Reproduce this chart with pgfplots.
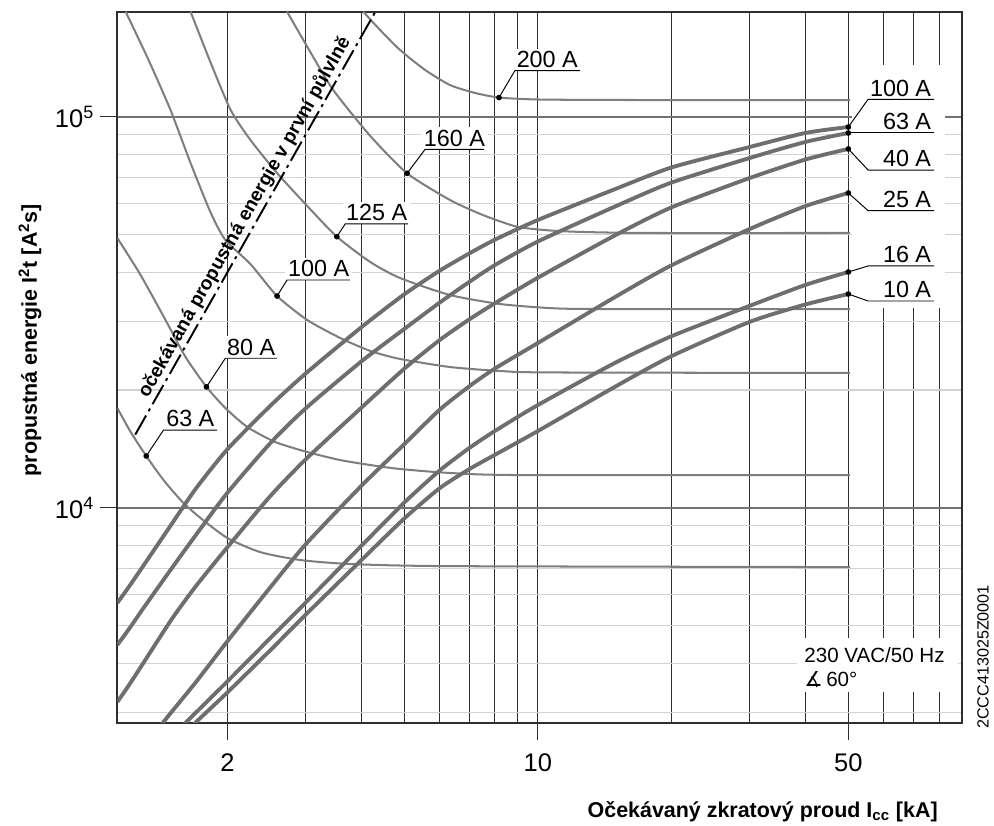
\documentclass[border=0pt]{standalone}
\usepackage{fontspec}
\setmainfont{Liberation Sans}
\newfontfamily\djv{DejaVu Sans}
\usepackage{pgfplots}
\pgfplotsset{compat=1.18}
\definecolor{thincurve}{HTML}{7E7E7E}
\definecolor{thickcurve}{HTML}{6E6E6E}
\definecolor{gridlight}{HTML}{D2D2D2}
\definecolor{gridmid}{HTML}{727272}
\definecolor{griddark}{HTML}{2E2E2E}
\tikzset{
    lab/.style={font=\fontsize{13.3}{15}\selectfont, fill=white, inner sep=1.5pt},
    fusec/.style={draw=thincurve, line width=1.15pt, smooth, tension=0.4},
    brkc/.style={draw=thickcurve, line width=2.2pt, smooth, tension=0.4},
    lead/.style={draw=black, line width=0.55pt},
}

\begin{document}
\begin{tikzpicture}
\useasboundingbox (-2.346cm,-2.046cm) rectangle (17.534cm,14.454cm);
\begin{axis}[
    at={(0,0)}, anchor=south west,
    scale only axis, width=16.888cm, height=14.22cm,
    xmode=log, ymode=log,
    xmin=1.13, xmax=90, ymin=2820, ymax=185600,
    xtick={2,10,50}, xticklabels={2,10,50},
    minor xtick={3,4,5,6,7,8,9,20,30,40,60,70,80},
    ytick={10000,100000}, yticklabels={10\textsuperscript{4},10\textsuperscript{5}},
    minor ytick={3000,4000,5000,6000,7000,8000,9000,20000,30000,40000,50000,60000,70000,80000,90000},
    xtick pos=bottom, ytick pos=left,
    grid=both,
    major x grid style={draw=griddark, line width=0.55pt},
    minor x grid style={draw=griddark, line width=0.55pt},
    major y grid style={draw=gridmid, line width=0.95pt},
    minor y grid style={draw=gridlight, line width=0.65pt},
    tick align=outside, major tick length=0.34cm, minor tick length=0pt,
    tick style={draw=griddark, line width=0.55pt},
    axis line style={draw=griddark, line width=1.3pt},
    ticklabel style={font=\fontsize{14.5}{17}\selectfont},
    xticklabel style={yshift=-0.16cm},
]

% white masks behind the label column and the note box
\fill[white] (rel axis cs:0.8700,0.9251) rectangle (rel axis cs:0.9803,0.5834);
\fill[white] (rel axis cs:0.8050,0.1191) rectangle (rel axis cs:0.9957,0.0432);
\node[anchor=west, inner sep=0pt, font=\fontsize{11.7}{13}\selectfont] at (rel axis cs:0.8133,0.0952) {230 VAC/50 Hz};
\node[anchor=west, inner sep=0pt, font=\fontsize{11.7}{13}\selectfont] at (rel axis cs:0.8133,0.0601) {{\djv ∡}\,60°};

% labels of the thin curves
\node[lab, anchor=south] at (axis cs:1.650,15800) {63 A};
\node[lab, anchor=south] at (axis cs:2.263,24110) {80 A};
\node[lab, anchor=south] at (axis cs:3.209,38230) {100 A};
\node[lab, anchor=south] at (axis cs:4.335,53170) {125 A};
\node[lab, anchor=south] at (axis cs:6.490,82500) {160 A};
\node[lab, anchor=south] at (axis cs:10.50,131100) {200 A};
% labels of the thick curves
\node[lab, anchor=south east] at (axis cs:78,110800) {100 A};
\node[lab, anchor=south east] at (axis cs:78,90850) {63 A};
\node[lab, anchor=south east] at (axis cs:78,73050) {40 A};
\node[lab, anchor=south east] at (axis cs:78,57490) {25 A};
\node[lab, anchor=south east] at (axis cs:78,41520) {16 A};
\node[lab, anchor=south east] at (axis cs:78,33780) {10 A};

% thin curves
\addplot[fusec] coordinates {(4.044,185600) (4.414,166600) (4.895,148100) (5.572,131700) (6.340,120500) (7.218,115000) (8.174,111900) (9.592,110800) (11.20,110500) (18,110300) (50.5,110300)};
\addplot[fusec] coordinates {(2.724,185600) (3.073,146400) (3.462,117000) (4.193,89300) (5.077,71660) (6.340,61240) (7.52,56050) (8.968,52320) (10.64,51170) (12.62,50720) (17.85,50420) (50.5,50420)};
\addplot[fusec] coordinates {(1.652,185600) (1.831,138000) (2.034,104000) (2.253,87200) (2.587,71780) (3.026,59090) (3.527,49340) (4.193,42500) (4.895,38680) (6.340,34990) (8.214,33190) (10.64,32400) (13.78,32220) (50.5,32220)};
\addplot[fusec] coordinates {(1.18,185600) (1.329,139600) (1.489,104000) (1.652,76150) (1.831,57050) (1.979,48370) (2.253,42000) (2.587,34780) (3.026,30200) (3.589,27170) (4.193,25170) (4.895,24010) (6.340,22900) (8.214,22370) (10.64,22180) (50.5,22110)};
\addplot[fusec] coordinates {(1.13,48960) (1.275,39370) (1.451,30200) (1.609,24310) (1.794,20370) (1.979,17990) (2.218,16080) (2.564,14720) (3.026,13880) (3.589,13240) (4.193,12860) (4.895,12560) (6.340,12270) (9.109,12120) (50.5,12120)};
\addplot[fusec] coordinates {(1.13,17990) (1.211,15620) (1.313,13560) (1.436,11770) (1.585,10340) (1.740,9410) (2.0,8365) (2.372,7700) (2.918,7350) (3.780,7180) (6.340,7090) (50.5,7050)};

% thick curves
\addplot[brkc] coordinates {(1.13,5706) (1.2,6277) (1.3,7166) (1.5,9106) (1.7,11210) (2,14110) (2.5,18240) (3,22040) (4,28910) (5,35120) (6,40330) (7,44660) (8,48460) (10,54430) (15,65440) (20,74180) (30,83670) (40,90850) (50,94100)};
\addplot[brkc] coordinates {(1.13,4455) (1.2,4891) (1.3,5579) (1.5,7013) (1.7,8530) (2,10920) (2.5,14640) (3,17950) (4,23640) (5,28640) (6,33420) (7,37760) (8,41730) (10,47950) (15,59090) (20,67870) (30,78430) (40,86160) (50,90850)};
\addplot[brkc] coordinates {(1.13,3185) (1.2,3516) (1.3,4043) (1.5,5198) (1.7,6310) (2,7925) (2.5,10720) (3,13290) (4,18000) (5,22660) (6,26800) (7,30280) (8,33330) (10,38750) (15,49890) (20,58640) (30,69700) (40,77700) (50,82700)};
\addplot[brkc] coordinates {(1.4,2733) (1.5,3012) (1.7,3586) (2,4556) (2.5,6265) (3,8060) (4,11360) (5,14530) (6,17780) (7,20420) (8,22690) (10,26380) (15,34700) (20,41690) (30,51620) (40,59060) (50,63810)};
\addplot[brkc] coordinates {(1.6,2798) (1.7,2996) (2,3597) (2.5,4645) (3,5719) (4,7980) (5,10300) (6,12430) (7,14200) (8,15710) (10,18310) (15,23540) (20,27460) (30,32840) (40,37120) (50,40070)};
\addplot[brkc] coordinates {(1.65,2733) (1.7,2831) (2,3370) (2.5,4325) (3,5325) (4,7336) (5,9380) (6,11200) (7,12540) (8,13650) (10,15710) (15,20460) (20,24420) (30,29880) (40,33090) (50,35200)};

% prospective let-through energy of the first half-wave
\addplot[draw=black, line width=1.1pt, dash pattern=on 0.44cm off 0.1cm on 0.06cm off 0.1cm]
    coordinates {(1.24,15376) (4.3,184900)}
    node[pos=0.5, sloped, anchor=south, inner sep=1pt, font=\bfseries\fontsize{10.9}{13}\selectfont] {očekávaná propustná energie v první půlvlně};

% leader lines
\addplot[lead] coordinates {(1.313,13560) (1.436,15800) (1.896,15800)};
\addplot[lead] coordinates {(1.794,20370) (1.979,24110) (2.587,24110)};
\addplot[lead] coordinates {(2.587,34780) (2.724,38230) (3.780,38230)};
\addplot[lead] coordinates {(3.527,49340) (3.683,53170) (5.103,53170)};
\addplot[lead] coordinates {(5.077,71660) (5.572,82500) (7.56,82500)};
\addplot[lead] coordinates {(8.174,111900) (8.876,131100) (12.43,131100)};
\addplot[lead] coordinates {(50,94100) (55.4,110800) (78,110800)};
\addplot[lead] coordinates {(50,90850) (78,90850)};
\addplot[lead] coordinates {(50,82700) (55.4,73050) (78,73050)};
\addplot[lead] coordinates {(50,63810) (55.4,57490) (78,57490)};
\addplot[lead] coordinates {(50,40070) (55.4,41520) (78,41520)};
\addplot[lead] coordinates {(50,35200) (55.4,33780) (78,33780)};

% dots
\addplot[only marks, mark=*, mark size=1.4pt, black] coordinates {
    (1.313,13560) (1.794,20370) (2.587,34780) (3.527,49340) (5.077,71660) (8.174,111900)
    (50,94100) (50,90850) (50,82700) (50,63810) (50,40070) (50,35200)};
\end{axis}

\node[anchor=east, inner sep=0pt, font=\bfseries\fontsize{12.2}{14}\selectfont] at (16.414cm,-1.786cm) {Očekávaný zkratový proud I\textsubscript{cc} [kA]};
\node[rotate=90, inner sep=0pt, font=\bfseries\fontsize{12.2}{14}\selectfont] at (-1.746cm,7.65cm) {propustná energie I\textsuperscript{2}t [A\textsuperscript{2}s]};
\node[rotate=90, inner sep=0pt, font=\fontsize{9.2}{11}\selectfont] at (17.314cm,1.314cm) {2CCC413025Z0001};
\end{tikzpicture}
\end{document}
